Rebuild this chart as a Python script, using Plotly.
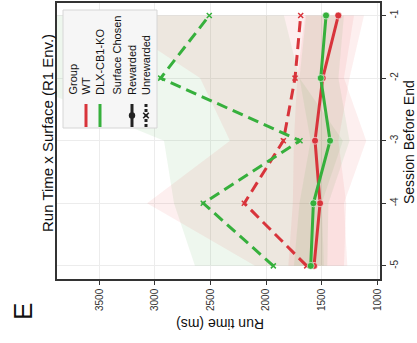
import plotly.graph_objects as go

# ---------------- data ----------------
sessions = [-5, -4, -3, -2, -1]
session_ticks = ["-5", "-4", "-3", "-2", "-1"]
runtime_ticks = [1000, 1500, 2000, 2500, 3000, 3500]

wt_rew = [1569, 1515, 1560, 1491, 1351]
wt_rew_lo = [1300, 1280, 1350, 1250, 1120]
wt_rew_hi = [1800, 1760, 1750, 1720, 1650]

dlx_rew = [1599, 1575, 1425, 1509, 1461]
dlx_rew_lo = [1450, 1440, 1250, 1350, 1300]
dlx_rew_hi = [1750, 1700, 1600, 1700, 1640]

wt_unrew = [1635, 2196, 1845, 1740, 1689]
wt_unrew_lo = [1270, 1300, 1100, 1300, 1210]
wt_unrew_hi = [2100, 3070, 2325, 2594, 3450]

dlx_unrew = [1935, 2565, 1695, 2948, 2511]
dlx_unrew_lo = [1480, 1500, 1310, 1700, 1840]
dlx_unrew_hi = [2640, 2828, 2918, 4300, 4300]

RED = "#d8343b"
GREEN = "#36b03c"
RED_FILL = "rgba(225,45,45,0.075)"
GREEN_FILL = "rgba(70,165,70,0.09)"

# plot area in pixels (for placing rotated text / manual legend)
L, R, T, B = 57, 380, 3, 279
W, H = 417, 343


def px2x(px):
    return (px - L) / (R - L)


def px2y(py):
    return (B - py) / (B - T)


fig = go.Figure()


def ribbon(lo, hi, fill):
    fig.add_trace(go.Scatter(
        x=hi + lo[::-1], y=sessions + sessions[::-1],
        fill="toself", fillcolor=fill, line=dict(width=0),
        mode="lines", hoverinfo="skip", showlegend=False))


ribbon(dlx_unrew_lo, dlx_unrew_hi, GREEN_FILL)
ribbon(wt_unrew_lo, wt_unrew_hi, RED_FILL)
ribbon(dlx_rew_lo, dlx_rew_hi, GREEN_FILL)
ribbon(wt_rew_lo, wt_rew_hi, RED_FILL)


def line(vals, color, dashed):
    fig.add_trace(go.Scatter(
        x=vals, y=sessions, mode="lines+markers",
        line=dict(color=color, width=3, dash="11px,6px" if dashed else "solid"),
        marker=dict(symbol="x-thin" if dashed else "circle",
                    size=5 if dashed else 7, color=color,
                    line=dict(color=color if dashed else "rgba(255,255,255,0.6)",
                              width=1.5 if dashed else 1)),
        showlegend=False, cliponaxis=False, hoverinfo="skip"))


line(wt_unrew, RED, True)
line(dlx_unrew, GREEN, True)
line(wt_rew, RED, False)
line(dlx_rew, GREEN, False)

FONT = "Liberation Sans, Arial, sans-serif"

ann = []
# title and axis titles (chart is rotated)
ann.append(dict(text="Run Time x Surface (R1 Env.)", x=px2x(47), y=px2y(133),
                textangle=-90, font=dict(size=15, color="#111")))
ann.append(dict(text="Session Before End", x=px2x(409), y=px2y(142),
                textangle=-90, font=dict(size=14, color="#111")))
ann.append(dict(text="Run time (ms)", x=px2x(220), y=px2y(324),
                textangle=180, font=dict(size=14, color="#111")))
ann.append(dict(text="E", x=px2x(23), y=px2y(312),
                textangle=-90, font=dict(size=26, color="#111")))

# manual rotated legend
legend_texts = [("Group", 73), ("WT", 86), ("DLX-CB1-KO", 100),
                ("Surface Chosen", 117), ("Rewarded", 132), ("Unrewarded", 146)]
for txt, xc in legend_texts:
    ann.append(dict(text=txt, x=px2x(xc), y=px2y(97), yanchor="bottom",
                    textangle=-90, font=dict(size=11, color="#111")))

for a in ann:
    a.setdefault("xref", "paper")
    a.setdefault("yref", "paper")
    a.setdefault("showarrow", False)
    a.setdefault("xanchor", "center")
    a.setdefault("yanchor", "middle")

shapes = []
shapes.append(dict(type="rect", xref="paper", yref="paper",
                   x0=px2x(63), x1=px2x(157), y0=px2y(128), y1=px2y(10),
                   fillcolor="#f6f6f6", line=dict(color="#d6d6d6", width=1),
                   layer="above"))
# legend keys
for xc, col, dash in [(86, RED, "solid"), (100, GREEN, "solid"),
                      (132, "#222", "solid"), (146, "#222", "3px,2px")]:
    shapes.append(dict(type="line", xref="paper", yref="paper",
                       x0=px2x(xc), x1=px2x(xc), y0=px2y(104), y1=px2y(127),
                       line=dict(color=col, width=3, dash=dash), layer="above"))
# dot for Rewarded
r = 3.2
shapes.append(dict(type="circle", xref="paper", yref="paper",
                   x0=px2x(132 - r), x1=px2x(132 + r), y0=px2y(115.5 + r), y1=px2y(115.5 - r),
                   fillcolor="#222", line=dict(color="#222", width=0), layer="above"))
# x for Unrewarded
s = 2.8
for dx0, dy0, dx1, dy1 in [(-s, -s, s, s), (-s, s, s, -s)]:
    shapes.append(dict(type="line", xref="paper", yref="paper",
                       x0=px2x(146 + dx0), y0=px2y(115.5 + dy0),
                       x1=px2x(146 + dx1), y1=px2y(115.5 + dy1),
                       line=dict(color="#222", width=1.6), layer="above"))

fig.update_layout(
    width=W, height=H,
    margin=dict(l=L, r=W - R, t=T, b=H - B, pad=0),
    paper_bgcolor="white", plot_bgcolor="white",
    font=dict(family=FONT, color="#222"),
    annotations=ann, shapes=shapes, hovermode=False,
    xaxis=dict(range=[3880, 976], tickvals=runtime_ticks,
               ticktext=[str(v) for v in runtime_ticks],
               tickangle=-90, ticks="outside", ticklen=4, tickcolor="#333",
               tickfont=dict(size=10, color="#333"), automargin=False,
               showgrid=True, gridcolor="#ececec", gridwidth=1,
               showline=True, linecolor="#333", linewidth=1.5, mirror=True,
               zeroline=False),
    yaxis=dict(range=[-5.21, -0.8], tickvals=sessions, ticktext=session_ticks,
               side="right", tickangle=-90, ticks="outside", ticklen=4,
               tickcolor="#333", tickfont=dict(size=10, color="#333"),
               automargin=False,
               showgrid=True, gridcolor="#ececec", gridwidth=1,
               showline=True, linecolor="#333", linewidth=1.5, mirror=True,
               zeroline=False),
)

fig.write_html("out.html", config={"displayModeBar": False},
               post_script="document.body.style.margin='0';document.body.style.overflow='hidden';")
